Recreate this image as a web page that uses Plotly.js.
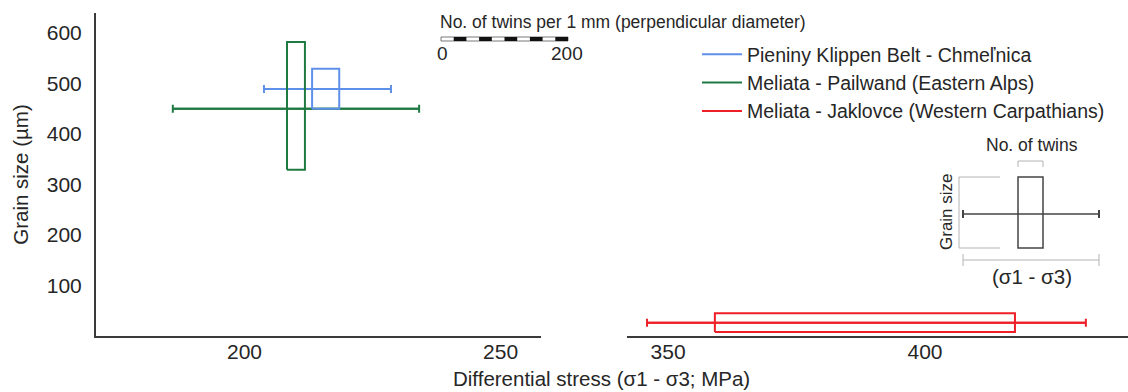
<!DOCTYPE html>
<html>
<head>
<meta charset="utf-8">
<script src="https://cdn.plot.ly/plotly-3.0.1.min.js"></script>
<style>html,body{margin:0;padding:0;background:#fff;}#chart{width:1128px;height:392px;}</style>
</head>
<body>
<div id="chart"></div>
<script>
// ---- data ----
const seriesNames = ['Pieniny Klippen Belt - Chmeľnica', 'Meliata - Pailwand (Eastern Alps)', 'Meliata - Jaklovce (Western Carpathians)'];
const seriesColors = ['#5e90ea', '#1f7a42', '#ee1f26'];
const seriesPanel = ['left', 'left', 'right'];
const stressMin = [203.8, 186.0, 345.9];      // whisker ends (MPa)
const stressMax = [228.6, 234.1, 431.3];
const whiskerGrain = [489, 450, 26];          // whisker level (µm)
const boxStressMin = [213.2, 208.3, 359.1];   // box horizontal extent (MPa)
const boxStressMax = [218.5, 211.8, 417.5];
const boxGrainMin = [450, 329, 8];            // box vertical extent (µm)
const boxGrainMax = [529, 582, 45];
const leftTicks = [200, 250];
const rightTicks = [350, 400];
const yTicks = [100, 200, 300, 400, 500, 600];
const leftRange = [171.0, 257.9];
const rightRange = [342.0, 439.5];
const yRange = [0, 639.6];

// ---- helpers ----
const W = 1128, H = 392;
const px = x => x / W;
const py = y => 1 - y / H;
const FONT = 'Liberation Sans, Arial, Helvetica, sans-serif';
const TXT = '#262626';

const traces = [];
for (let i = 0; i < seriesNames.length; i++) {
  const xa = seriesPanel[i] === 'left' ? 'x' : 'x2';
  const mid = (stressMin[i] + stressMax[i]) / 2;
  traces.push({
    type: 'scatter', mode: 'lines', xaxis: xa, yaxis: 'y',
    x: [stressMin[i], stressMax[i]], y: [whiskerGrain[i], whiskerGrain[i]],
    line: {color: seriesColors[i], width: 2}, showlegend: false, hoverinfo: 'skip'
  });
  traces.push({
    type: 'scatter', mode: 'markers', xaxis: xa, yaxis: 'y',
    x: [mid], y: [whiskerGrain[i]], marker: {size: 1, opacity: 0},
    error_x: {type: 'data', symmetric: false, array: [stressMax[i] - mid], arrayminus: [mid - stressMin[i]],
      color: seriesColors[i], thickness: 2, width: 4},
    showlegend: false, hoverinfo: 'skip'
  });
}
for (let i = 0; i < seriesNames.length; i++) {
  const xa = seriesPanel[i] === 'left' ? 'x' : 'x2';
  traces.push({
    type: 'scatter', mode: 'lines', xaxis: xa, yaxis: 'y', name: seriesNames[i],
    x: [boxStressMin[i], boxStressMax[i], boxStressMax[i], boxStressMin[i], boxStressMin[i]],
    y: [boxGrainMin[i], boxGrainMin[i], boxGrainMax[i], boxGrainMax[i], boxGrainMin[i]],
    line: {color: seriesColors[i], width: 2}, hoverinfo: 'skip'
  });
}

// ---- decorations: scale bar & explanatory inset ----
const shapes = [];
const sbX0 = 441, sbX1 = 568, sbY0 = 37, sbY1 = 41, nSeg = 10;
const segW = (sbX1 - sbX0) / nSeg;
shapes.push({type: 'rect', xref: 'paper', yref: 'paper', x0: px(sbX0), x1: px(sbX1), y0: py(sbY1), y1: py(sbY0),
  line: {color: '#555', width: 0.8}, fillcolor: '#fff'});
for (let k = 1; k < nSeg; k += 2) {
  shapes.push({type: 'rect', xref: 'paper', yref: 'paper', x0: px(sbX0 + k * segW), x1: px(sbX0 + (k + 1) * segW),
    y0: py(sbY1), y1: py(sbY0), line: {width: 0}, fillcolor: '#111'});
}
const pathP = pts => pts.map(p => (p[0] === 'M' ? 'M' : 'L') + px(p[1]) + ',' + py(p[2])).join(' ');
const dark = '#444', light = '#b3b3b3';
shapes.push({type: 'rect', xref: 'paper', yref: 'paper', x0: px(1018), x1: px(1043), y0: py(248), y1: py(177), line: {color: dark, width: 1.5}});
shapes.push({type: 'path', xref: 'paper', yref: 'paper', path: pathP([['M', 963, 214], ['L', 1099, 214]]), line: {color: dark, width: 1.5}});
shapes.push({type: 'path', xref: 'paper', yref: 'paper', path: pathP([['M', 963, 210], ['L', 963, 218]]), line: {color: dark, width: 2}});
shapes.push({type: 'path', xref: 'paper', yref: 'paper', path: pathP([['M', 1099, 210], ['L', 1099, 218]]), line: {color: dark, width: 2}});
shapes.push({type: 'path', xref: 'paper', yref: 'paper', path: pathP([['M', 1018, 167], ['L', 1018, 161], ['L', 1043, 161], ['L', 1043, 167]]), line: {color: light, width: 1}});
shapes.push({type: 'path', xref: 'paper', yref: 'paper', path: pathP([['M', 1000, 177], ['L', 959, 177], ['L', 959, 248], ['L', 1000, 248]]), line: {color: light, width: 1}});
shapes.push({type: 'path', xref: 'paper', yref: 'paper', path: pathP([['M', 963, 254], ['L', 963, 266]]), line: {color: light, width: 1}});
shapes.push({type: 'path', xref: 'paper', yref: 'paper', path: pathP([['M', 1099, 254], ['L', 1099, 266]]), line: {color: light, width: 1}});
shapes.push({type: 'path', xref: 'paper', yref: 'paper', path: pathP([['M', 963, 260], ['L', 1099, 260]]), line: {color: light, width: 1}});

const ann = (text, x, y, size, extra) => Object.assign({text, xref: 'paper', yref: 'paper', x: px(x), y: py(y),
  showarrow: false, font: {family: FONT, size, color: TXT}, xanchor: 'center', yanchor: 'middle'}, extra || {});
const annotations = [
  ann('Differential stress (σ1 - σ3; MPa)', 601, 378, 20.5),
  ann('No. of twins per 1 mm (perpendicular diameter)', 438, 22, 17.5, {xanchor: 'left'}),
  ann('0', 442, 53, 19),
  ann('200', 567, 53, 19),
  ann('No. of twins', 1032, 145, 17.5),
  ann('Grain size', 946, 212, 17, {textangle: -90}),
  ann('(σ1 - σ3)', 1032, 276, 20.5)
];

const axisCommon = {showgrid: false, zeroline: false, showline: true, linecolor: '#3a3a3a', linewidth: 2,
  ticks: '', tickfont: {family: FONT, size: 21, color: TXT}, fixedrange: true};

const layout = {
  width: W, height: H,
  margin: {l: 0, r: 0, t: 0, b: 0, autoexpand: false},
  paper_bgcolor: '#fff', plot_bgcolor: 'rgba(0,0,0,0)',
  font: {family: FONT, color: TXT},
  xaxis: Object.assign({}, axisCommon, {domain: [px(96), px(541)], range: leftRange, tickvals: leftTicks, anchor: 'y', ticklabelstandoff: -4}),
  xaxis2: Object.assign({}, axisCommon, {domain: [px(627), 1], range: rightRange, tickvals: rightTicks, anchor: 'y', ticklabelstandoff: -4}),
  yaxis: Object.assign({}, axisCommon, {domain: [py(336), py(13)], range: yRange, tickvals: yTicks, anchor: 'x',
    ticklabelstandoff: 8, title: {text: 'Grain size (µm)', font: {family: FONT, size: 20.5, color: TXT}, standoff: 13}}),
  showlegend: true,
  legend: {x: px(697), y: py(35), xanchor: 'left', yanchor: 'top', bgcolor: 'rgba(0,0,0,0)',
    font: {family: FONT, size: 19.5, color: TXT}, tracegroupgap: 0, itemwidth: 40},
  shapes, annotations
};

Plotly.newPlot('chart', traces, layout, {staticPlot: true, displayModeBar: false});
</script>
</body>
</html>
